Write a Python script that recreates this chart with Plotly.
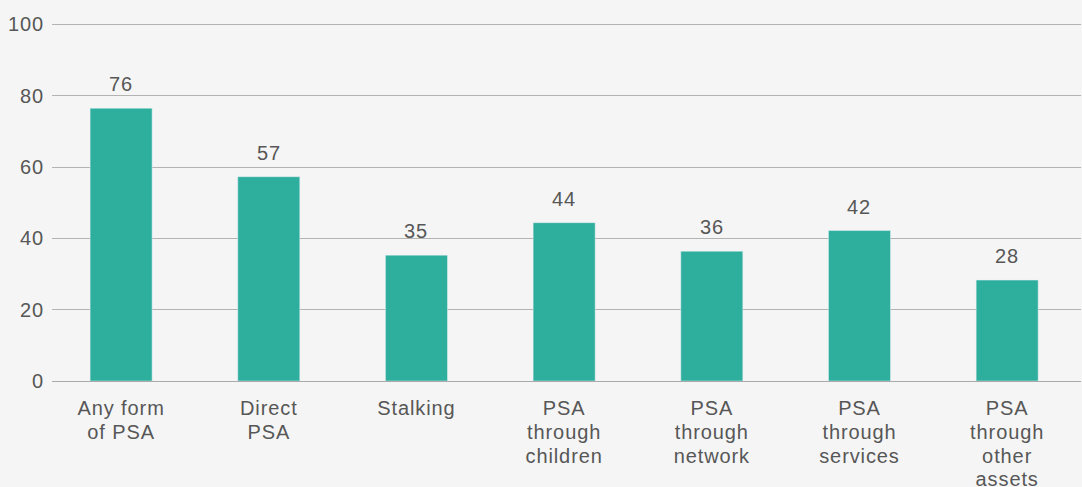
import plotly.graph_objects as go

categories = ["Any form<br>of PSA", "Direct<br>PSA", "Stalking", "PSA<br>through<br>children",
              "PSA<br>through<br>network", "PSA<br>through<br>services", "PSA<br>through<br>other<br>assets"]
values = [76.5, 57.3, 35.3, 44.4, 36.4, 42.2, 28.3]
y_ticks = [0, 20, 40, 60, 80, 100]

FONT = "Liberation Sans, Arial, sans-serif"
TXT = "#575757"
FS = 20

fig = go.Figure()
fig.add_trace(go.Bar(x=list(range(len(categories))), y=values, marker_color="#2eaf9d",
                     width=0.42, hoverinfo="skip"))
for i, v in enumerate(values):
    fig.add_annotation(x=i, y=v, text=f"{v:.0f}", showarrow=False, yanchor="bottom",
                       yshift=11, font=dict(family=FONT, size=FS, color=TXT))

fig.update_layout(
    width=1082, height=487,
    margin=dict(l=52, r=1, t=23, b=106, autoexpand=False),
    paper_bgcolor="#f5f5f5", plot_bgcolor="#f5f5f5",
    showlegend=False,
    font=dict(family=FONT, size=FS, color=TXT),
)
fig.update_xaxes(range=[-0.468, 6.5], tickvals=list(range(len(categories))),
                 ticktext=categories, showgrid=False, showline=False, ticks="",
                 zeroline=False, ticklabelstandoff=13, automargin=False,
                 tickfont=dict(family=FONT, size=FS, color=TXT))
fig.update_yaxes(range=[0, 100.4], tickvals=y_ticks, showgrid=True, gridcolor="#b3b3b3",
                 gridwidth=1, zeroline=True, zerolinecolor="#aaaaaa", zerolinewidth=1,
                 ticks="", ticklabelstandoff=7, automargin=False,
                 tickfont=dict(family=FONT, size=FS, color=TXT))

post = """
document.body.style.margin='0';
document.querySelectorAll('.xtick text, .ytick text, .annotation-text').forEach(function(e){e.style.letterSpacing='0.9px';});
document.querySelectorAll('.xtick text tspan.line').forEach(function(s){
  var d = parseFloat(s.getAttribute('dy'));
  if (!isNaN(d)) { s.setAttribute('dy', (d / 1.3 * 1.19) + 'em'); }
});
"""
fig.write_html("out.html", post_script=post, config={"displayModeBar": False})
